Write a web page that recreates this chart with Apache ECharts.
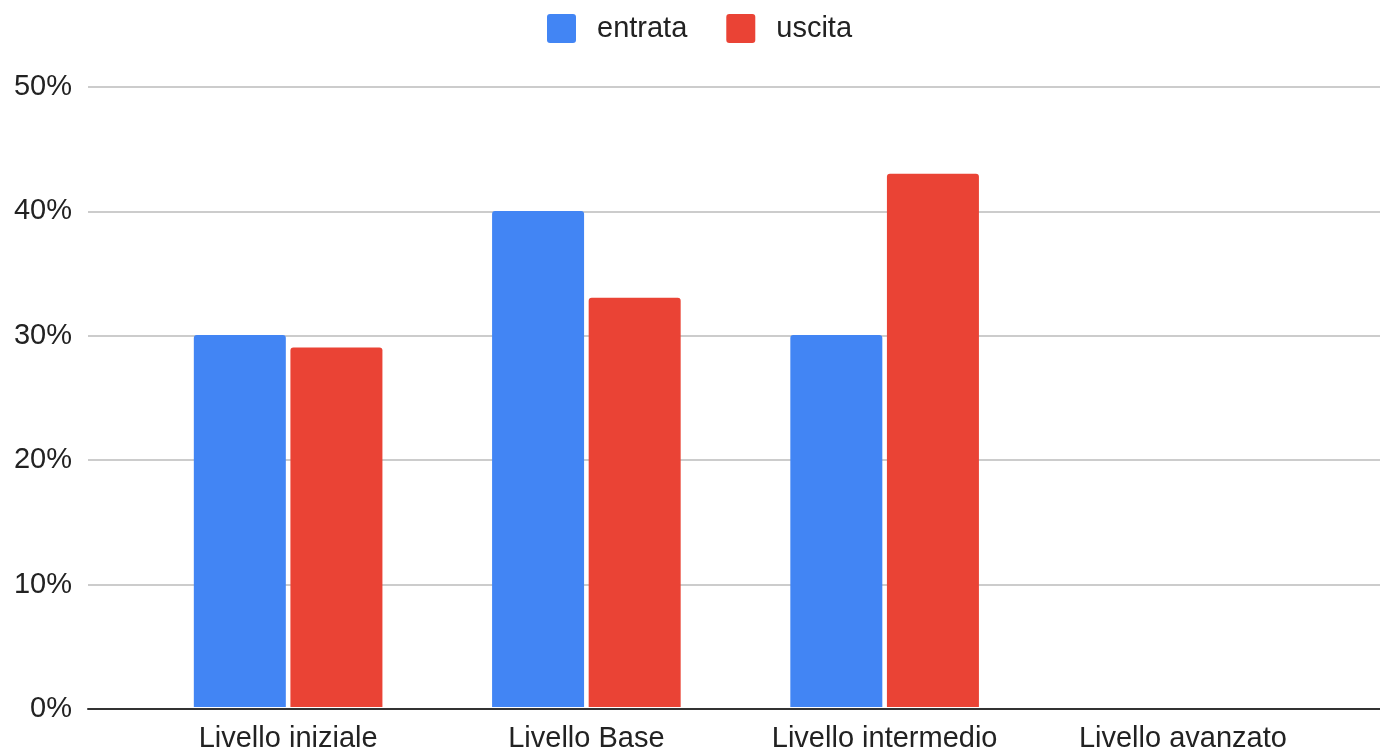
<!DOCTYPE html>
<html>
<head>
<meta charset="utf-8">
<script src="https://cdn.jsdelivr.net/npm/echarts@6/dist/echarts.min.js"></script>
<style>
html,body{margin:0;padding:0;background:#fff;}
#chart{width:1380px;height:753px;}
</style>
</head>
<body>
<div id="chart"></div>
<script>
const categories = ['Livello iniziale', 'Livello Base', 'Livello intermedio', 'Livello avanzato'];
const entrata = [0.30, 0.40, 0.30, 0];
const uscita = [0.29, 0.33, 0.43, 0];
const seriesNames = ['entrata', 'uscita'];
const yTicks = [0, 0.1, 0.2, 0.3, 0.4, 0.5];

const FONT = '"Liberation Sans", Arial, sans-serif';
const chart = echarts.init(document.getElementById('chart'), null, {renderer: 'canvas'});
const yMax = yTicks[yTicks.length - 1];
const yStep = yTicks[1] - yTicks[0];
const squareIcon = 'path://M3,0 H26 A3,3 0 0 1 29,3 V26 A3,3 0 0 1 26,29 H3 A3,3 0 0 1 0,26 V3 A3,3 0 0 1 3,0 Z';

chart.setOption({
  animation: false,
  backgroundColor: '#ffffff',
  textStyle: {fontFamily: FONT},
  legend: {
    data: seriesNames,
    top: 14,
    left: 547,
    padding: 0,
    itemWidth: 29,
    itemHeight: 29,
    itemGap: 39,
    icon: squareIcon,
    textStyle: {fontFamily: FONT, fontSize: 29, color: '#222', padding: [0, 0, 0, 16]}
  },
  grid: [
    {left: 88, right: 0, top: 87, bottom: 44},
    {left: 139, right: 48, top: 87, bottom: 44}
  ],
  xAxis: [
    {
      type: 'value', gridIndex: 0, min: 0, max: 1,
      axisLine: {show: true, onZero: false, lineStyle: {color: '#333', width: 2}},
      axisTick: {show: false}, axisLabel: {show: false}, splitLine: {show: false}
    },
    {
      type: 'category', gridIndex: 1, data: categories,
      axisLine: {show: false}, axisTick: {show: false},
      axisLabel: {fontFamily: FONT, fontSize: 29, color: '#222', margin: 17}
    }
  ],
  yAxis: [
    {
      type: 'value', gridIndex: 0, min: 0, max: yMax, interval: yStep,
      axisLine: {show: false}, axisTick: {show: false},
      axisLabel: {fontFamily: FONT, fontSize: 29, color: '#222', margin: 16,
        formatter: v => Math.round(v * 100) + '%'},
      splitLine: {show: true, lineStyle: {color: '#cccccc', width: 2}}
    },
    {
      type: 'value', gridIndex: 1, min: 0, max: yMax, interval: yStep,
      show: false, splitLine: {show: false}
    }
  ],
  series: [
    {
      name: seriesNames[0], type: 'bar', xAxisIndex: 1, yAxisIndex: 1,
      data: entrata, barWidth: 92, barGap: '5%',
      itemStyle: {color: '#4285F4', borderRadius: [3, 3, 0, 0]}
    },
    {
      name: seriesNames[1], type: 'bar', xAxisIndex: 1, yAxisIndex: 1,
      data: uscita, barWidth: 92, barGap: '5%',
      itemStyle: {color: '#EA4335', borderRadius: [3, 3, 0, 0]}
    }
  ]
});
</script>
</body>
</html>
